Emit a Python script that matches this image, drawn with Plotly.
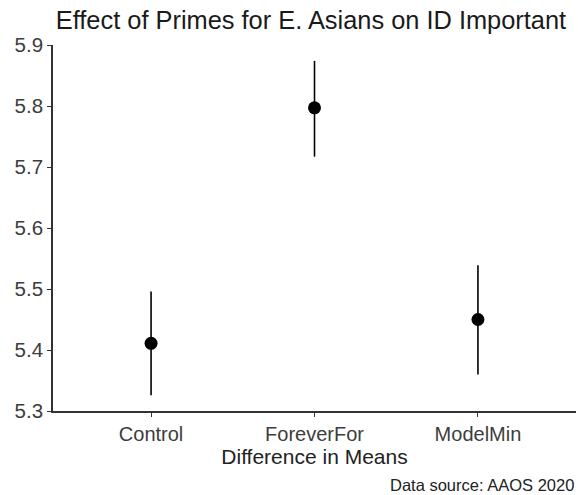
import plotly.graph_objects as go

categories = ["Control", "ForeverFor", "ModelMin"]
means = [5.411, 5.797, 5.450]
lower = [5.326, 5.717, 5.360]
upper = [5.496, 5.874, 5.539]
y_ticks = [5.3, 5.4, 5.5, 5.6, 5.7, 5.8, 5.9]

fig = go.Figure()
fig.add_trace(go.Scatter(
    x=categories, y=means, mode="markers",
    marker=dict(color="black", size=13),
    error_y=dict(type="data", symmetric=False,
                 array=[u - m for u, m in zip(upper, means)],
                 arrayminus=[m - l for m, l in zip(means, lower)],
                 width=0, thickness=1.6, color="black"),
    showlegend=False,
))

fig.update_layout(
    width=578, height=495,
    margin=dict(l=53, r=2, t=45, b=84),
    plot_bgcolor="white", paper_bgcolor="white",
    font=dict(family="Liberation Sans, Arial, sans-serif", color="#222"),
    title=dict(text="Effect of Primes for E. Asians on ID Important",
               x=0.538, xanchor="center", y=1 - 20 / 495, yanchor="middle",
               font=dict(size=25.4, color="#1a1a1a")),
    xaxis=dict(
        type="category", range=[-0.6, 2.6],
        showline=True, linecolor="#333", linewidth=1.6,
        ticks="outside", ticklen=4, tickcolor="#333", tickwidth=1.2,
        showgrid=False, zeroline=False,
        tickfont=dict(size=20, color="#3d3d3d"),
        title=dict(text="Difference in Means", font=dict(size=21, color="#222"), standoff=0),
    ),
    yaxis=dict(
        range=[5.3, 5.9], tickvals=y_ticks,
        ticktext=[f"{v:.1f}" for v in y_ticks],
        showline=True, linecolor="#333", linewidth=1.6,
        ticks="outside", ticklen=4, tickcolor="#333", tickwidth=1.2,
        showgrid=False, zeroline=False,
        tickfont=dict(size=20.5, color="#3d3d3d"),
    ),
    annotations=[dict(text="Data source: AAOS 2020", xref="paper", yref="paper",
                      x=1.0, y=-(485 - 411) / 366, xanchor="right", yanchor="middle",
                      showarrow=False, font=dict(size=16.5, color="#222"))],
)

fig.write_html("out.html", config={"displayModeBar": False},
               post_script="document.body.style.margin='0';")
